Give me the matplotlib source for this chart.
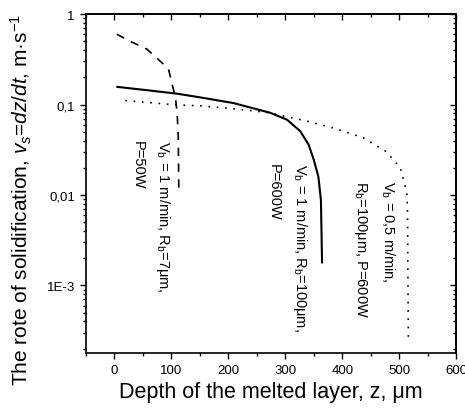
import numpy as np
import matplotlib
matplotlib.use("Agg")
import matplotlib.pyplot as plt
from matplotlib.ticker import FixedLocator, FixedFormatter, LogLocator, NullFormatter, MultipleLocator

plt.rcParams['font.family'] = ['Liberation Sans', 'DejaVu Sans']
plt.rcParams['mathtext.fontset'] = 'custom'
plt.rcParams['mathtext.rm'] = 'Liberation Sans'
plt.rcParams['mathtext.it'] = 'Liberation Sans:italic'

# V_b = 1 m/min, R_b = 7 um, P = 50 W (dashed)
dash_z = [4, 28, 57, 86, 95, 101, 107, 110, 112, 113]
dash_v = [0.60, 0.50, 0.41, 0.28, 0.245, 0.17, 0.12, 0.081, 0.044, 0.0105]

# V_b = 1 m/min, R_b = 100 um, P = 600 W (solid)
sol_z = [5, 50, 110, 151, 209, 274, 303, 326, 341, 350, 358, 362.5, 364.5]
sol_v = [0.157, 0.146, 0.132, 0.12, 0.104, 0.081, 0.068, 0.051, 0.036, 0.0245, 0.016, 0.0088, 0.0018]

# V_b = 0.5 m/min, R_b = 100 um, P = 600 W (dotted)
dot_z = [19, 110, 151, 209, 268, 332, 385, 437, 478, 502, 513.5, 514.6, 516]
dot_v = [0.111, 0.099, 0.097, 0.09, 0.082, 0.067, 0.055, 0.043, 0.030, 0.020, 0.0105, 0.0063, 0.000245]

y_ticks = [1e-3, 1e-2, 1e-1, 1]
y_tick_labels = ['1E-3', '0,01', '0,1', '1']
x_ticks = [0, 100, 200, 300, 400, 500, 600]

fig = plt.figure(figsize=(4.65, 4.1), dpi=100)
ax = fig.add_axes([0.185, 0.137, 0.796, 0.826])

ax.plot(dash_z, dash_v, color='black', lw=1.2, linestyle=(0, (5, 4.5)))
ax.plot(sol_z, sol_v, color='black', lw=1.5)
ax.plot(dot_z, dot_v, color='black', lw=1.2, linestyle=(0, (1, 4)))

ax.set_yscale('log')
ax.set_xlim(-50, 600)
ax.set_ylim(1.8e-4, 1)

ax.yaxis.set_major_locator(FixedLocator(y_ticks))
ax.yaxis.set_major_formatter(FixedFormatter(y_tick_labels))
ax.yaxis.set_minor_locator(LogLocator(base=10, subs=np.arange(2, 10)))
ax.yaxis.set_minor_formatter(NullFormatter())
ax.xaxis.set_major_locator(FixedLocator(x_ticks))
ax.xaxis.set_minor_locator(MultipleLocator(50))

ax.tick_params(which='both', direction='out', labelsize=9.5, width=1)
ax.tick_params(which='major', length=4.5)
ax.tick_params(which='minor', length=2.5)
for sp in ax.spines.values():
    sp.set_linewidth(1.2)

# mirrored ticks on top and right, pointing inward
top = ax.secondary_xaxis('top')
top.xaxis.set_major_locator(FixedLocator(x_ticks))
top.xaxis.set_minor_locator(MultipleLocator(50))
top.tick_params(which='both', direction='in', labeltop=False, width=1)
top.tick_params(which='major', length=4.5)
top.tick_params(which='minor', length=2.5)
top.spines['top'].set_linewidth(1.2)

right = ax.secondary_yaxis('right', functions=(lambda v: v, lambda v: v))
right.yaxis.set_major_locator(FixedLocator(y_ticks))
right.yaxis.set_minor_locator(LogLocator(base=10, subs=np.arange(2, 10)))
right.yaxis.set_minor_formatter(NullFormatter())
right.tick_params(which='both', direction='in', labelright=False, width=1)
right.tick_params(which='major', length=4.5)
right.tick_params(which='minor', length=2.5)
right.spines['right'].set_linewidth(1.2)

ax.set_xlabel('Depth of the melted layer, z, μm', fontsize=15.5, labelpad=4)
ax.set_ylabel('The rote of solidification, $v_s$=$dz/dt$, m·s$^{-1}$', fontsize=15)
ax.yaxis.set_label_coords(-0.14, 0.455)

notes = [
    (65, 0.041, 'V$_\\mathrm{b}$ = 1 m/min, R$_\\mathrm{b}$=7μm,\nP=50W'),
    (305, 0.0227, 'V$_\\mathrm{b}$ = 1 m/min, R$_\\mathrm{b}$=100μm,\nP=600W'),
    (456, 0.0147, 'V$_\\mathrm{b}$ = 0,5 m/min,\nR$_\\mathrm{b}$=100μm, P=600W'),
]
for nx, ny, txt in notes:
    ax.text(nx, ny, txt, rotation=270, ha='center', va='top', multialignment='left',
            fontsize=10.5, linespacing=1.9)

fig.savefig('out.png', dpi=100)
